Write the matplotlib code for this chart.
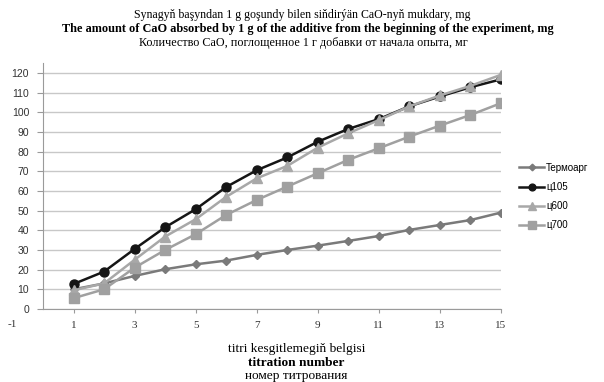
import matplotlib.pyplot as plt
import matplotlib.transforms as mtransforms

titration = list(range(1, 16))
termoarg = [10, 13, 16.8, 20.2, 22.7, 24.6, 27.5, 30, 32.2, 34.6, 37.1, 40.2, 42.7, 45.2, 49]
c105 = [12.7, 19, 30.5, 41.5, 50.7, 62, 70.5, 77, 85, 91.5, 96.5, 103, 108, 112.7, 116.7]
c600 = [9.5, 13, 25, 36.8, 45.6, 57, 66.4, 72.7, 82, 89.3, 96, 103, 108.5, 113.4, 119]
c700 = [5.5, 10, 21, 30, 38, 47.8, 55.4, 62.2, 69, 75.8, 81.7, 87.6, 93.2, 98.6, 104.6]
names = ['Термоарг', 'ц105', 'ц600', 'ц700']

title_lines = ['Synagyň başyndan 1 g goşundy bilen siňdirýän CaO-nyň mukdary, mg',
               'The amount of CaO absorbed by 1 g of the additive from the beginning of the experiment, mg',
               'Количество CaO, поглощенное 1 г добавки от начала опыта, мг']
xlabel_lines = ['titri kesgitlemegiň belgisi', 'titration number', 'номер титрования']

serif = 'Liberation Serif'
sans = 'Liberation Sans'

fig = plt.figure(figsize=(6.04, 3.82), dpi=100)
ax = fig.add_axes([43/604, 1-309/382, (501-43)/604, (309-63)/382])

styles = [
    dict(color='#7a7a7a', marker='D', markersize=4.5),
    dict(color='#151515', marker='o', markersize=6.5),
    dict(color='#a8a8a8', marker='^', markersize=7),
    dict(color='#a0a0a0', marker='s', markersize=7),
]
for vals, name, st in zip([termoarg, c105, c600, c700], names, styles):
    ax.plot(titration, vals, lw=1.8, label=name, **st)

ax.set_xlim(0, 15)
ax.set_ylim(0, 125)
ax.set_yticks(range(0, 121, 10))
ax.set_xticks(range(1, 16, 2))
ax.grid(axis='y', color='#c8c8c8', lw=1)
ax.set_axisbelow(True)
for s in ['top', 'right']:
    ax.spines[s].set_visible(False)
ax.spines['left'].set_color('#9a9a9a')
ax.spines['bottom'].set_color('#9a9a9a')
ax.tick_params(axis='y', length=4, color='#9a9a9a', labelsize=7.5, pad=6)
ax.tick_params(axis='x', length=3, color='#9a9a9a', labelsize=8, pad=6)
for lab in ax.get_yticklabels():
    lab.set_fontfamily(sans)
    lab.set_color('#333333')
for lab in ax.get_xticklabels():
    lab.set_fontfamily(serif)
    lab.set_color('#333333')
# Excel shows a stray "-1" label outside the plot area
trans = mtransforms.blended_transform_factory(ax.transData, ax.transAxes)
ax.text(-1, -0.063, '-1', transform=trans, ha='center', va='center',
        fontsize=8, family=serif, color='#333333', clip_on=False)

leg = ax.legend(loc='upper left', bbox_to_anchor=(1.02, 0.63), frameon=False,
                prop={'family': sans, 'size': 7}, handlelength=2.6, markerscale=0.75,
                labelspacing=0.95, handletextpad=0.2)

fig.text(302/604, 1-15/382, title_lines[0], ha='center', va='center', family=serif, fontsize=8.6)
fig.text(308/604, 1-29/382, title_lines[1], ha='center', va='center', family=serif,
         fontsize=8.8, weight='bold')
fig.text(303/604, 1-43/382, title_lines[2], ha='center', va='center', family=serif, fontsize=8.7)

fig.text(297/604, 1-349/382, xlabel_lines[0], ha='center', va='center', family=serif, fontsize=9.6)
fig.text(296/604, 1-363/382, xlabel_lines[1], ha='center', va='center', family=serif,
         fontsize=9.6, weight='bold')
fig.text(296/604, 1-376/382, xlabel_lines[2], ha='center', va='center', family=serif, fontsize=9.6)

fig.savefig('out.png', dpi=100)
